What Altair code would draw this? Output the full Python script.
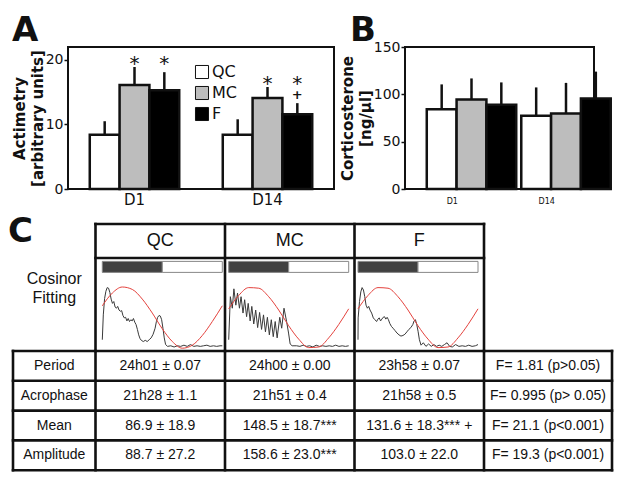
import altair as alt
import pandas as pd

# ------------------------------------------------------------------ data
groups = ["QC", "MC", "F"]
days = ["D1", "D14"]

act_mean = [8.4, 16.1, 15.3, 8.4, 14.1, 11.6]
act_upper = [10.5, 18.9, 18.1, 10.8, 15.8, 13.3]
cort_mean = [84.2, 94.6, 88.9, 77.3, 79.8, 95.6]
cort_upper = [110.5, 116.8, 112.6, 107.3, 112.1, 124.0]

sig_day = ["D1", "D1", "D14", "D14", "D14"]
sig_group = ["MC", "F", "MC", "F", "F"]
sig_symbol = ["*", "*", "*", "*", "+"]

row_labels = ["Period", "Acrophase", "Mean", "Amplitude"]
qc_vals = ["24h01 ± 0.07", "21h28 ± 1.1", "86.9 ± 18.9", "88.7 ± 27.2"]
mc_vals = ["24h00 ± 0.00", "21h51 ± 0.4", "148.5 ± 18.7***", "158.6 ± 23.0***"]
f_vals = ["23h58 ± 0.07", "21h58 ± 0.5", "131.6 ± 18.3*** +", "103.0 ± 22.0"]
anova_vals = ["F= 1.81 (p>0.05)", "F= 0.995 (p> 0.05)", "F= 21.1 (p<0.001)", "F= 19.3 (p<0.001)"]
side_label = ["Cosinor", "Fitting"]

phase_names = ["dark", "light"]
phase_start = [0, 12]
phase_end = [12, 24]

qc_hours = [0.0, 0.2, 0.46, 0.72, 0.98, 1.25, 1.51, 1.77, 2.03, 2.3, 2.56, 2.82, 3.08, 3.34,
            3.61, 3.87, 4.13, 4.39, 4.66, 4.92, 5.18, 5.44, 5.71, 5.97, 6.23, 6.49, 6.75,
            7.02, 7.28, 7.54, 7.8, 8.2, 8.59, 8.98, 9.38, 9.77, 10.16, 10.56, 10.82, 11.08,
            11.34, 11.61, 11.87, 12.13, 12.39, 12.66, 13.05, 13.7, 14.36, 15.01, 15.67,
            16.33, 16.98, 17.64, 18.29, 18.95, 19.6, 20.26, 20.92, 21.57, 22.23, 22.88,
            23.54, 24.0]
qc_act = [0.13, 0.54, 0.81, 0.93, 0.99, 0.98, 0.91, 0.8, 0.73, 0.76, 0.67, 0.65, 0.68, 0.62,
          0.6, 0.61, 0.53, 0.49, 0.5, 0.44, 0.48, 0.43, 0.46, 0.44, 0.48, 0.42, 0.38, 0.3,
          0.21, 0.15, 0.12, 0.1, 0.12, 0.1, 0.13, 0.16, 0.22, 0.32, 0.43, 0.5, 0.53, 0.52,
          0.46, 0.32, 0.16, 0.05, 0.02, 0.03, 0.01, 0.03, 0.02, 0.04, 0.02, 0.05, 0.02,
          0.03, 0.02, 0.03, 0.04, 0.02, 0.03, 0.02, 0.03, 0.03]

mc_hours = [0.0, 0.33, 0.72, 1.04, 1.43, 1.76, 2.15, 2.47, 2.86, 3.19, 3.58, 3.9, 4.29, 4.62,
            5.01, 5.4, 5.79, 6.18, 6.57, 6.96, 7.35, 7.74, 8.13, 8.52, 8.91, 9.3, 9.69,
            10.21, 10.6, 11.06, 11.58, 11.97, 12.29, 12.68, 13.59, 14.24, 14.89, 15.54,
            16.19, 16.84, 17.49, 18.14, 18.79, 19.44, 20.1, 20.75, 21.4, 22.05, 22.7,
            23.35, 24.0]
mc_act = [0.13, 0.84, 0.65, 0.97, 0.7, 0.9, 0.65, 0.84, 0.57, 0.79, 0.51, 0.73, 0.44, 0.68,
          0.39, 0.62, 0.33, 0.58, 0.3, 0.54, 0.26, 0.5, 0.21, 0.46, 0.18, 0.43, 0.16, 0.5,
          0.32, 0.65, 0.43, 0.24, 0.06, 0.03, 0.03, 0.02, 0.04, 0.02, 0.03, 0.01, 0.04,
          0.02, 0.03, 0.02, 0.03, 0.02, 0.04, 0.02, 0.03, 0.02, 0.03]

f_hours = [0.0, 0.03, 0.3, 0.56, 0.82, 1.09, 1.35, 1.61, 1.88, 2.14, 2.4, 2.73, 3.06, 3.39,
           3.72, 3.98, 4.25, 4.51, 4.77, 5.04, 5.3, 5.56, 5.83, 6.09, 6.35, 6.68, 7.01,
           7.41, 7.8, 8.2, 8.59, 8.99, 9.38, 9.78, 10.17, 10.57, 10.96, 11.22, 11.49,
           11.75, 12.01, 12.28, 12.61, 13.07, 13.59, 14.12, 14.65, 15.17, 15.7, 16.23,
           16.75, 17.28, 17.81, 18.33, 18.86, 19.52, 20.18, 20.84, 21.49, 22.15, 22.81,
           23.47, 24.0]
f_act = [0.13, 0.49, 0.76, 0.92, 0.99, 0.95, 0.84, 0.7, 0.65, 0.68, 0.62, 0.57, 0.49, 0.46,
         0.43, 0.47, 0.49, 0.44, 0.47, 0.5, 0.51, 0.47, 0.5, 0.46, 0.4, 0.35, 0.32, 0.28,
         0.24, 0.21, 0.19, 0.2, 0.22, 0.26, 0.3, 0.33, 0.38, 0.44, 0.46, 0.38, 0.27, 0.13,
         0.04, 0.08, 0.02, 0.06, 0.02, 0.05, 0.02, 0.04, 0.02, 0.05, 0.08, 0.02, 0.01,
         0.05, 0.02, 0.03, 0.02, 0.04, 0.02, 0.03, 0.05]

fit_hours = [0, 2, 4, 6, 8, 10, 12, 14, 16, 18, 20, 22, 24]
qc_fit = [0.69, 0.9, 1.0, 0.96, 0.8, 0.57, 0.31, 0.1, -0.01, 0.04, 0.2, 0.43, 0.69]
mc_fit = [0.64, 0.86, 0.99, 0.98, 0.84, 0.62, 0.36, 0.14, 0.0, 0.01, 0.16, 0.38, 0.64]
f_fit = [0.64, 0.86, 0.99, 0.98, 0.84, 0.62, 0.36, 0.14, 0.0, 0.01, 0.16, 0.38, 0.64]

# ------------------------------------------------------------------ style / layout
FONT = "DejaVu Sans"
TFONT = "Liberation Sans"
INK = "#111111"
fill_scale = alt.Scale(domain=groups, range=["#ffffff", "#bdbdbd", "#000000"])


def bar_panel(means, uppers, ymax, yticks, ytitle, width, height, pad_outer,
              xlab_size, xlab_pad, letter, letter_dx, show_legend, with_sig):
    df = pd.DataFrame({
        "day": [d for d in days for _ in groups],
        "group": groups * len(days),
        "mean": means,
        "upper": uppers,
    })
    xenc = alt.X("day:N", sort=days, title=None,
                 scale=alt.Scale(paddingInner=0, paddingOuter=0),
                 axis=alt.Axis(labelAngle=0, labelFontSize=xlab_size, labelFont=FONT,
                               labelColor=INK, ticks=False, domain=False,
                               labelPadding=xlab_pad))
    xoff = alt.XOffset("group:N", sort=groups,
                       scale=alt.Scale(paddingInner=0, paddingOuter=pad_outer))
    yenc = alt.Y("mean:Q", scale=alt.Scale(domain=[0, ymax], nice=False),
                 axis=alt.Axis(values=yticks, title=ytitle, grid=False, domain=False,
                               tickSize=4, tickColor=INK, tickWidth=1.5,
                               labelFont=FONT, labelFontSize=14, labelColor=INK,
                               labelPadding=1,
                               titleFont=FONT, titleFontSize=15, titleFontWeight="bold",
                               titleColor=INK, titleLineHeight=18, titlePadding=0))
    if show_legend:
        leg = alt.Legend(orient="none", legendX=126, legendY=17, title=None,
                         symbolType="square", symbolSize=170, symbolStrokeColor=INK,
                         symbolStrokeWidth=1, labelFont=FONT, labelFontSize=16,
                         labelColor=INK, rowPadding=3, labelOffset=2)
    else:
        leg = None
    base = alt.Chart(df)
    bars = base.mark_bar(stroke=INK, strokeWidth=2.5).encode(
        x=xenc, xOffset=xoff, y=yenc,
        fill=alt.Fill("group:N", sort=groups, scale=fill_scale, legend=leg))
    errs = base.mark_rule(color=INK, strokeWidth=2.5).encode(
        x=xenc, xOffset=xoff, y="mean:Q", y2="upper:Q")
    letter_layer = alt.Chart(pd.DataFrame({"t": [letter]})).mark_text(
        font=FONT, fontSize=34, fontWeight="bold", align="left",
        baseline="alphabetic", color=INK).encode(
        text="t:N", x=alt.value(letter_dx), y=alt.value(-6))
    layers = [bars, errs, letter_layer]
    if with_sig:
        day_max = {d: max(u for dd, u in zip(df["day"], df["upper"]) if dd == d) for d in days}
        up = {(d, g): u for d, g, u in zip(df["day"], df["group"], df["upper"])}
        sdf = pd.DataFrame({"day": sig_day, "group": sig_group, "sym": sig_symbol})
        sdf["daymax"] = [day_max[d] for d in sdf["day"]]
        sdf["upper"] = [up[(d, g)] for d, g in zip(sdf["day"], sdf["group"])]
        stars = alt.Chart(sdf).transform_filter("datum.sym == '*'").transform_calculate(
            lvl="datum.daymax + 1.0").mark_text(
            font=FONT, fontSize=20, baseline="middle", dy=3, color=INK).encode(
            x=xenc, xOffset=xoff, y=alt.Y("lvl:Q"), text="sym:N")
        plus = alt.Chart(sdf).transform_filter("datum.sym == '+'").transform_calculate(
            lvl="datum.upper + 1.4").mark_text(
            font=FONT, fontSize=13, fontWeight="bold", baseline="middle", dy=1, color=INK).encode(
            x=xenc, xOffset=xoff, y=alt.Y("lvl:Q"), text="sym:N")
        layers += [stars, plus]
    return alt.layer(*layers).properties(width=width, height=height)


panel_a = bar_panel(act_mean, act_upper, 22, [0, 5, 10, 15, 20],
                    ["Actimetry", "[arbitrary units]"], 266, 142, 0.73,
                    15, 3, "A", -56, True, True)
panel_b = bar_panel(cort_mean, cort_upper, 150, [0, 50, 100, 150],
                    ["Corticosterone", "[ng/µl]"], 189, 142, 0.35,
                    8, 8, "B", -55, False, False)

top = alt.hconcat(panel_a, panel_b, spacing=4).resolve_scale(fill="independent")

# ------------------------------------------------------------------ panel C (table)
CX = [68, 614]
CY = [210, 469]
col_edges = [13, 95.5, 225, 354.5, 484, 612]
header_top, header_bot, img_bot = 222, 256, 349
row_edges = [349, 378.8, 408.6, 438.4, 468.2]
region_left = [102.3, 228.7, 358.0]
region_w = 120.0
bar_y = [header_bot + 3.4, header_bot + 14.4]
curve_base, curve_h = img_bot - 3.4, 60.6

xs = alt.Scale(domain=CX, nice=False, zero=False)
ys = alt.Scale(domain=CY, reverse=True, nice=False, zero=False)

segs = []
for xe in col_edges[1:5]:
    segs.append((xe, header_top, xe, img_bot))
for ye in (header_top, header_bot):
    segs.append((col_edges[1], ye, col_edges[4], ye))
for xe in col_edges:
    segs.append((xe, row_edges[0], xe, row_edges[-1]))
for ye in row_edges:
    segs.append((col_edges[0], ye, col_edges[-1], ye))
seg_df = pd.DataFrame(segs, columns=["x0", "y0", "x1", "y1"])

grid = alt.Chart(seg_df).mark_rule(color=INK, strokeWidth=2.6, strokeCap="square").encode(
    x=alt.X("x0:Q", scale=xs, axis=None), x2="x1:Q",
    y=alt.Y("y0:Q", scale=ys, axis=None), y2="y1:Q")

cells = []
for c, name in enumerate(groups):
    cells.append(((col_edges[c + 1] + col_edges[c + 2]) / 2,
                  (header_top + header_bot) / 2, name, 18))
for i, s in enumerate(side_label):
    cells.append(((col_edges[0] + col_edges[1]) / 2, header_bot + 21 + 19 * i, s, 16))
columns = [row_labels, qc_vals, mc_vals, f_vals, anova_vals]
for c, col in enumerate(columns):
    for r, s in enumerate(col):
        cells.append(((col_edges[c] + col_edges[c + 1]) / 2,
                      (row_edges[r] + row_edges[r + 1]) / 2, s, 14))
cell_df = pd.DataFrame(cells, columns=["x", "y", "t", "fs"])
texts = alt.Chart(cell_df).mark_text(font=TFONT, color=INK, baseline="middle").encode(
    x=alt.X("x:Q", scale=xs, axis=None), y=alt.Y("y:Q", scale=ys, axis=None),
    text="t:N", size=alt.Size("fs:Q", scale=None, legend=None))

ph_rows = []
for ci in range(3):
    for p, s0, s1 in zip(phase_names, phase_start, phase_end):
        ph_rows.append((ci, p, s0, s1))
ph_df = pd.DataFrame(ph_rows, columns=["ci", "phase", "h0", "h1"])
xexpr = "[%s][datum.ci] + datum.{h} / 24 * %s" % (",".join(str(v) for v in region_left), region_w)
photo = alt.Chart(ph_df).transform_calculate(
    px0=xexpr.format(h="h0"), px1=xexpr.format(h="h1"),
    py0=str(bar_y[0]), py1=str(bar_y[1])).mark_rect(stroke="#888888", strokeWidth=1).encode(
    x=alt.X("px0:Q", scale=xs, axis=None), x2="px1:Q",
    y=alt.Y("py0:Q", scale=ys, axis=None), y2="py1:Q",
    fill=alt.Fill("phase:N", scale=alt.Scale(domain=phase_names, range=["#404040", "#ffffff"]),
                  legend=None))

cur_rows = []
for ci, (hh, vv) in enumerate([(qc_hours, qc_act), (mc_hours, mc_act), (f_hours, f_act)]):
    for h, v in zip(hh, vv):
        cur_rows.append((ci, "act", h, v))
for ci, vv in enumerate([qc_fit, mc_fit, f_fit]):
    for h, v in zip(fit_hours, vv):
        cur_rows.append((ci, "fit", h, v))
cur_df = pd.DataFrame(cur_rows, columns=["ci", "kind", "hour", "val"])
hexpr = "[%s][datum.ci] + datum.hour / 24 * %s" % (",".join(str(v) for v in region_left), region_w)
vexpr = "%s - datum.val * %s" % (curve_base, curve_h)
act_line = alt.Chart(cur_df).transform_filter("datum.kind == 'act'").transform_calculate(
    px=hexpr, py=vexpr).mark_line(color="#3a3a3a", strokeWidth=1).encode(
    x=alt.X("px:Q", scale=xs, axis=None), y=alt.Y("py:Q", scale=ys, axis=None),
    detail="ci:N", order="hour:Q")
fit_line = alt.Chart(cur_df).transform_filter("datum.kind == 'fit'").transform_calculate(
    px=hexpr, py=vexpr).mark_line(color="#e4413c", strokeWidth=1, interpolate="monotone").encode(
    x=alt.X("px:Q", scale=xs, axis=None), y=alt.Y("py:Q", scale=ys, axis=None),
    detail="ci:N", order="hour:Q")

letter_c = alt.Chart(pd.DataFrame({"t": ["C"], "x": [8], "y": [240]})).mark_text(
    font=FONT, fontSize=34, fontWeight="bold", align="left", baseline="alphabetic",
    color=INK).encode(x=alt.X("x:Q", scale=xs, axis=None), y=alt.Y("y:Q", scale=ys, axis=None),
                      text="t:N")

panel_c = alt.layer(photo, act_line, fit_line, texts, grid, letter_c).properties(
    width=CX[1] - CX[0], height=CY[1] - CY[0],
    view=alt.ViewBackground(stroke=None))

chart = alt.vconcat(top, panel_c, spacing=4).properties(
    padding={"top": 5, "bottom": 0, "left": 0, "right": 0}).configure_view(
    stroke=INK, strokeWidth=2)

chart.save("out.html", embed_options={"renderer": "svg", "actions": False})
